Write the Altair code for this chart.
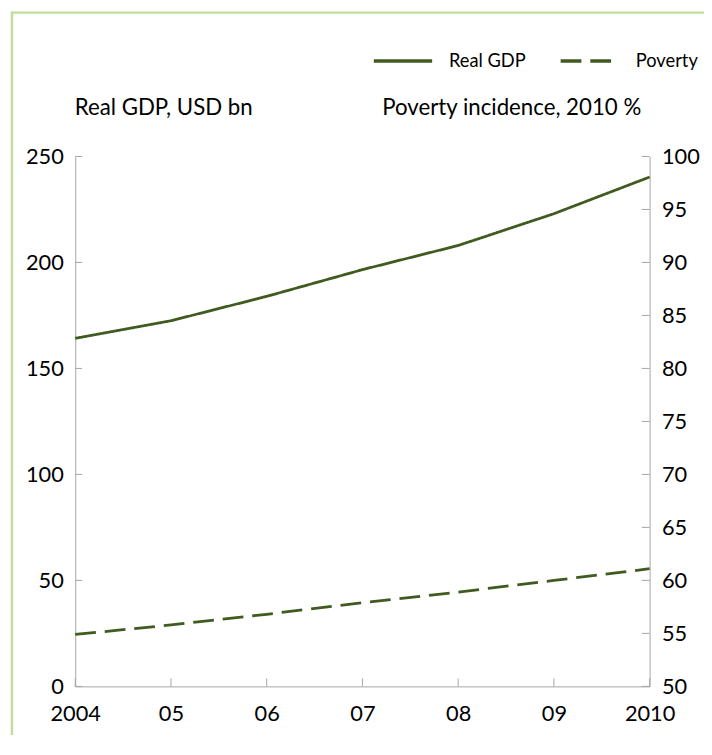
import altair as alt
import pandas as pd

years = [2004, 2005, 2006, 2007, 2008, 2009, 2010]
year_labels = ["2004", "05", "06", "07", "08", "09", "2010"]
gdp = [164.2, 172.5, 184.0, 196.6, 208.0, 223.0, 240.3]
poverty = [54.9, 55.8, 56.8, 57.9, 58.9, 60.0, 61.1]
series_names = ["Real GDP", "Poverty"]
left_ticks = [0, 50, 100, 150, 200, 250]
right_ticks = [50, 55, 60, 65, 70, 75, 80, 85, 90, 95, 100]

LINE = "#405a20"
AXIS = "#a6a6a6"
FRAME = "#c3dc9e"
FONT = "Lato"
W, H = 581, 536

df_gdp = pd.DataFrame({"year": years, "value": gdp, "series": "Real GDP"})
df_pov = pd.DataFrame({"year": years, "value": poverty, "series": "Poverty"})
df_lt = pd.DataFrame({"value": left_ticks})
df_rt = pd.DataFrame({"value": right_ticks})
df_xt = pd.DataFrame({"year": years})

label_expr = "[" + ",".join("'%s'" % l for l in year_labels) + "][datum.value - 2004]"

x_enc = alt.X(
    "year:Q",
    scale=alt.Scale(domain=[years[0], years[-1]], nice=False, zero=False),
    axis=alt.Axis(values=years, labelExpr=label_expr, grid=False, ticks=False, tickSize=0,
                  domainColor=AXIS, domainWidth=1, labelFontSize=22, labelColor="#000000",
                  labelPadding=18, labelFlush=False, title=None),
)

y_left = alt.Y(
    "value:Q",
    scale=alt.Scale(domain=[0, 250], nice=False),
    axis=alt.Axis(values=left_ticks, orient="left", grid=False, ticks=False, tickSize=0,
                  domainColor=AXIS, domainWidth=1, labelFontSize=22, labelColor="#000000",
                  labelPadding=12, format="d",
                  title="Real GDP, USD bn", titleAngle=0, titleAlign="left",
                  titleBaseline="alphabetic", titleX=-1, titleY=-42,
                  titleFontSize=22.5, titleFontWeight="normal", titleColor="#000000"),
)

y_right = alt.Y(
    "value:Q",
    scale=alt.Scale(domain=[50, 100], nice=False, zero=False),
    axis=alt.Axis(values=right_ticks, orient="right", grid=False, ticks=False, tickSize=0,
                  domainColor=AXIS, domainWidth=1, labelFontSize=22, labelColor="#000000",
                  labelPadding=12, format="d",
                  title="Poverty incidence, 2010 %", titleAngle=0, titleAlign="right",
                  titleBaseline="alphabetic", titleX=-9, titleY=-42,
                  titleFontSize=22.5, titleFontWeight="normal", titleColor="#000000"),
)

dash_enc = alt.StrokeDash(
    "series:N",
    scale=alt.Scale(domain=series_names, range=[[1, 0], [21, 9]]),
    legend=alt.Legend(title=None, orient="none", legendX=300, legendY=-128,
                      direction="horizontal", symbolType="stroke", symbolSize=3481,
                      symbolStrokeWidth=3.5, symbolStrokeColor=LINE,
                      labelFontSize=18.5, labelColor="#000000", labelOffset=15,
                      columnPadding=28, padding=0),
)

one = alt.Data(values=[{}])
frame_top = alt.Chart(one).mark_rule(color=FRAME, strokeWidth=2.5).encode(
    x=alt.value(-65), x2=alt.value(1200), y=alt.value(-145.5)
)
frame_left = alt.Chart(one).mark_rule(color=FRAME, strokeWidth=2.5).encode(
    x=alt.value(-64), y=alt.value(-146.5), y2=alt.value(1200)
)

gdp_line = alt.Chart(df_gdp).mark_line(color=LINE, strokeWidth=2.8).encode(
    x=x_enc, y=y_left, strokeDash=dash_enc
)
lt_rules = alt.Chart(df_lt).mark_rule(color=AXIS, strokeWidth=1).encode(
    y=y_left, x=alt.value(0), x2=alt.value(7)
)
xt_rules = alt.Chart(df_xt).mark_rule(color=AXIS, strokeWidth=1).encode(
    x=x_enc, y=alt.value(H - 8), y2=alt.value(H)
)
left_group = alt.layer(gdp_line, lt_rules, xt_rules)

pov_line = alt.Chart(df_pov).mark_line(color=LINE, strokeWidth=2.8).encode(
    x=x_enc, y=y_right, strokeDash=dash_enc
)
rt_rules = alt.Chart(df_rt).mark_rule(color=AXIS, strokeWidth=1).encode(
    y=y_right, x=alt.value(W - 8), x2=alt.value(W)
)
right_group = alt.layer(pov_line, rt_rules)

chart = alt.layer(frame_top, frame_left, left_group, right_group).resolve_scale(
    y="independent"
).properties(
    width=W, height=H,
    autosize=alt.AutoSizeParams(type="none"),
    padding={"left": 68, "top": 146, "right": 55, "bottom": 45},
    background="#ffffff",
).configure(font=FONT).configure_view(strokeWidth=0)

chart.save("out.html", embed_options={"renderer": "svg", "actions": False})
